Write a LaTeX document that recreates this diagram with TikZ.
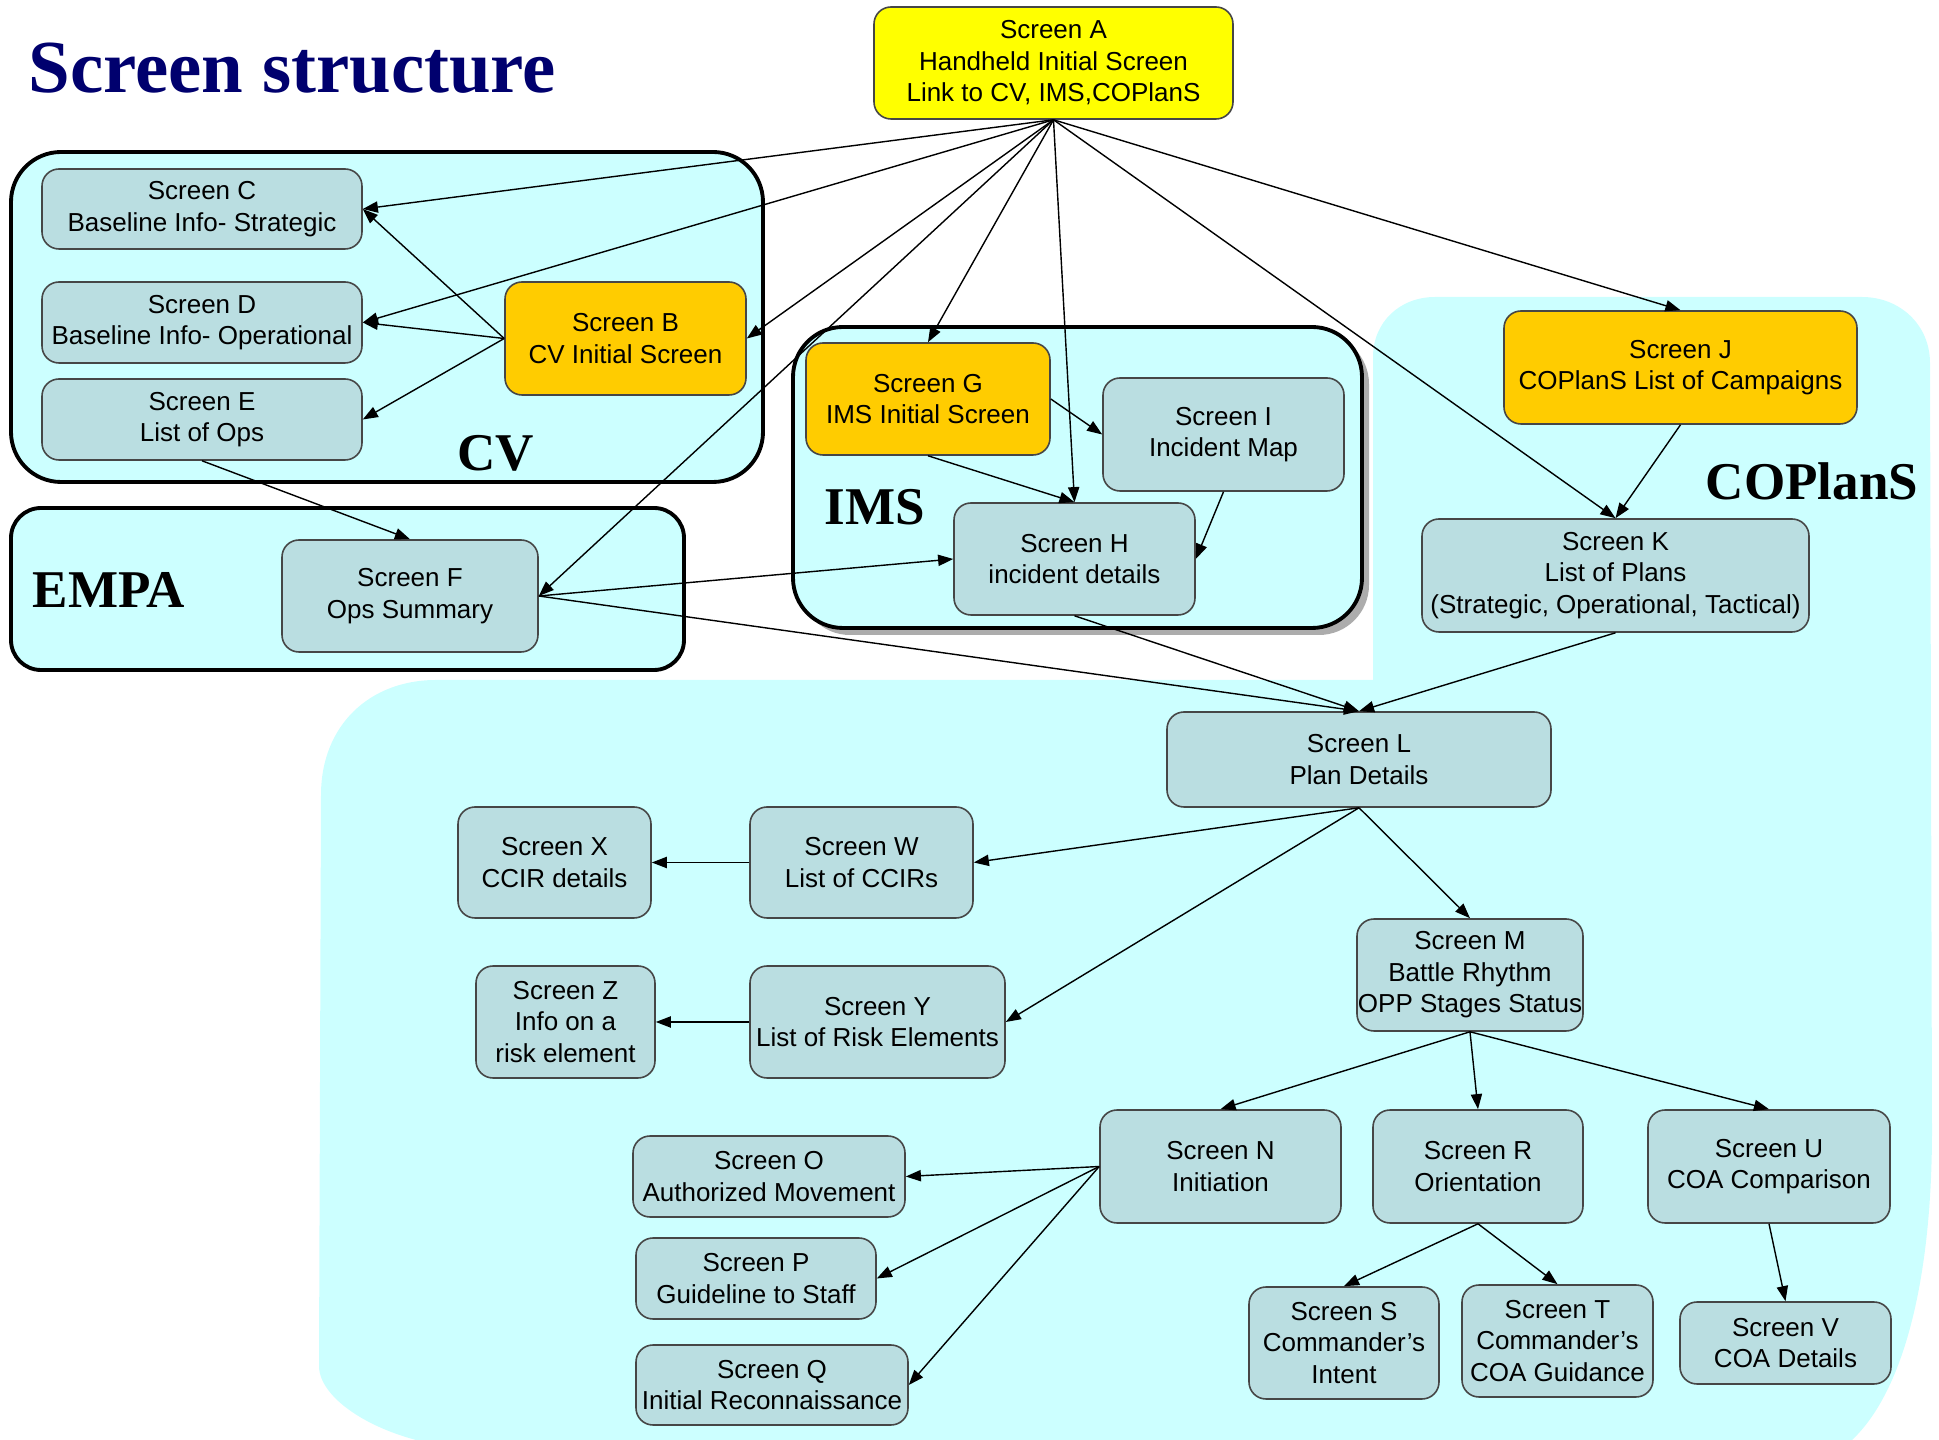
\documentclass[tikz,border=0pt]{standalone}
\usepackage{fontspec}
\setmainfont{Liberation Sans}
\newfontfamily\grpfont{Liberation Serif}
\usepackage{tikz}
\usetikzlibrary{arrows.meta,positioning}

\definecolor{bgcyan}{RGB}{204,255,255}
\definecolor{boxfill}{RGB}{186,222,225}
\definecolor{boxline}{RGB}{70,70,70}
\definecolor{initfill}{RGB}{255,204,0}
\definecolor{topfill}{RGB}{255,255,0}
\definecolor{titleblue}{RGB}{0,0,110}

\tikzset{
    screen/.style={draw=boxline, line width=0.45pt, fill=boxfill, rounded corners=0.17cm,
        inner sep=0pt, align=center, font=\fontsize{7.4}{8.96}\selectfont},
    initscreen/.style={screen, fill=initfill},
    topscreen/.style={screen, fill=topfill},
    sz/.style 2 args={minimum width=#1cm, minimum height=#2cm},
    group/.style={draw=black, line width=1.1pt, fill=bgcyan},
    grouplabel/.style={anchor=base, inner sep=0pt, font=\grpfont\bfseries\fontsize{15.1}{18}\selectfont},
    link/.style={-{Triangle[length=4.3pt,width=3.2pt]}, line width=0.4pt}
}

\begin{document}
\begin{tikzpicture}
        \useasboundingbox (0,0) rectangle (19.39,14.40);
        % Background of COPlanS and plan screens
        \fill[bgcyan] (3.21,6.45) .. controls (3.21,7.15) and (3.70,7.60) .. (4.36,7.60)
            -- (13.73,7.60) -- (13.73,10.83) .. controls (13.73,11.18) and (14.00,11.43) .. (14.35,11.43)
            -- (18.62,11.43) .. controls (19.00,11.43) and (19.30,11.15) .. (19.30,10.77)
            -- (19.32,3.10) .. controls (19.32,1.50) and (19.00,0.45) .. (18.52,0)
            -- (4.16,0) .. controls (3.60,0.15) and (3.21,0.45) .. (3.19,0.72) -- cycle;
        % Group boxes
        \draw[group, rounded corners=0.5cm] (0.11,12.88) rectangle (7.63,9.58);
        \draw[group, rounded corners=0.3cm] (0.11,9.32) rectangle (6.84,7.70);
        \fill[gray!65, rounded corners=0.5cm] (8.00,11.06) rectangle (13.69,8.05);
        \draw[group, rounded corners=0.5cm] (7.93,11.13) rectangle (13.62,8.12);
        % Title and group names
        \node[anchor=base west, inner sep=0pt, text=titleblue, font=\grpfont\bfseries\fontsize{21.3}{24}\selectfont]
            (title) at (0.28,13.47) {Screen structure};
        \node[grouplabel] (cv) at (4.96,9.69) {CV};
        \node[grouplabel] (empa) at (1.09,8.32) {EMPA};
        \node[grouplabel] (ims) at (8.75,9.15) {IMS};
        \node[grouplabel] (coplans) at (18.12,9.40) {COPlanS};
        % Screens
        \node[topscreen, sz={3.59}{1.12}] (A) at (10.535,13.77) {Screen A\\Handheld Initial Screen\\Link to CV, IMS,COPlanS};
        \node[initscreen, sz={2.41}{1.13}] (B) at (6.255,11.015) {Screen B\\CV Initial Screen};
        \node[screen, sz={3.20}{0.80}] (C) at (2.02,12.31) {Screen C\\Baseline Info- Strategic};
        \node[screen, sz={3.20}{0.81}] (D) at (2.02,11.175) {Screen D\\Baseline Info- Operational};
        \node[screen, sz={3.20}{0.81}] (E) at (2.02,10.205) {Screen E\\List of Ops};
        \node[screen, sz={2.56}{1.12}] (F) at (4.10,8.44) {Screen F\\Ops Summary};
        \node[initscreen, sz={2.44}{1.12}] (G) at (9.28,10.41) {Screen G\\IMS Initial Screen};
        \node[screen, sz={2.41}{1.12}] (H) at (10.745,8.81) {Screen H\\incident details};
        \node[screen, sz={2.41}{1.13}] (I) at (12.235,10.055) {Screen I\\Incident Map};
        \node[initscreen, sz={3.53}{1.13}] (J) at (16.805,10.725) {Screen J\\COPlanS List of Campaigns};
        \node[screen, sz={3.87}{1.13}] (K) at (16.155,8.645) {Screen K\\List of Plans\\(Strategic, Operational, Tactical)};
        \node[screen, sz={3.84}{0.95}] (L) at (13.59,6.805) {Screen L\\Plan Details};
        \node[screen, sz={2.26}{1.12}] (M) at (14.70,4.65) {Screen M\\Battle Rhythm\\OPP Stages Status};
        \node[screen, sz={2.41}{1.13}] (N) at (12.205,2.735) {Screen N\\Initiation};
        \node[screen, sz={2.72}{0.81}] (O) at (7.69,2.635) {Screen O\\Authorized Movement};
        \node[screen, sz={2.40}{0.81}] (P) at (7.56,1.615) {Screen P\\Guideline to Staff};
        \node[screen, sz={2.72}{0.80}] (Q) at (7.72,0.55) {Screen Q\\Initial Reconnaissance};
        \node[screen, sz={2.10}{1.13}] (R) at (14.78,2.735) {Screen R\\Orientation};
        \node[screen, sz={1.90}{1.12}] (S) at (13.44,0.97) {Screen S\\Commander’s\\Intent};
        \node[screen, sz={1.91}{1.12}] (T) at (15.575,0.99) {Screen T\\Commander’s\\COA Guidance};
        \node[screen, sz={2.42}{1.13}] (U) at (17.69,2.735) {Screen U\\COA Comparison};
        \node[screen, sz={2.11}{0.82}] (V) at (17.855,0.97) {Screen V\\COA Details};
        \node[screen, sz={2.23}{1.11}] (W) at (8.615,5.775) {Screen W\\List of CCIRs};
        \node[screen, sz={1.93}{1.11}] (X) at (5.545,5.775) {Screen X\\CCIR details};
        \node[screen, sz={2.55}{1.12}] (Y) at (8.775,4.18) {Screen Y\\List of Risk Elements};
        \node[screen, sz={1.79}{1.12}] (Z) at (5.655,4.18) {Screen Z\\Info on a\\risk element};
        % Links from the handheld screen
        \foreach \t in {C,B,F} \draw[link] (A.south) -- (\t.east);
        \draw[link] (A.south) -- (D.east);
        \foreach \t in {G,H,J,K} \draw[link] (A.south) -- (\t.north);
        % CV and EMPA
        \foreach \t in {C,D,E} \draw[link] (B.west) -- (\t.east);
        \draw[link] (E.south) -- (F.north);
        \draw[link] (F.east) -- (H.west);
        \draw[link] (F.east) -- (L.north);
        % IMS
        \draw[link] (G.east) -- (I.west);
        \draw[link] (G.south) -- (H.north);
        \draw[link] (I.south) -- (H.east);
        \draw[link] (H.south) -- (L.north);
        % COPlanS
        \draw[link] (J.south) -- (K.north);
        \draw[link] (K.south) -- (L.north);
        \draw[link] (L.south) -- (W.east);
        \draw[link] (L.south) -- (Y.east);
        \draw[link] (L.south) -- (M.north);
        \draw[link] (W.west) -- (X.east);
        \draw[link] (Y.west) -- (Z.east);
        \foreach \t in {N,R,U} \draw[link] (M.south) -- (\t.north);
        \foreach \t in {O,P,Q} \draw[link] (N.west) -- (\t.east);
        \draw[link] (R.south) -- (S.north);
        \draw[link] (R.south) -- (T.north);
        \draw[link] (U.south) -- (V.north);
\end{tikzpicture}
\end{document}
